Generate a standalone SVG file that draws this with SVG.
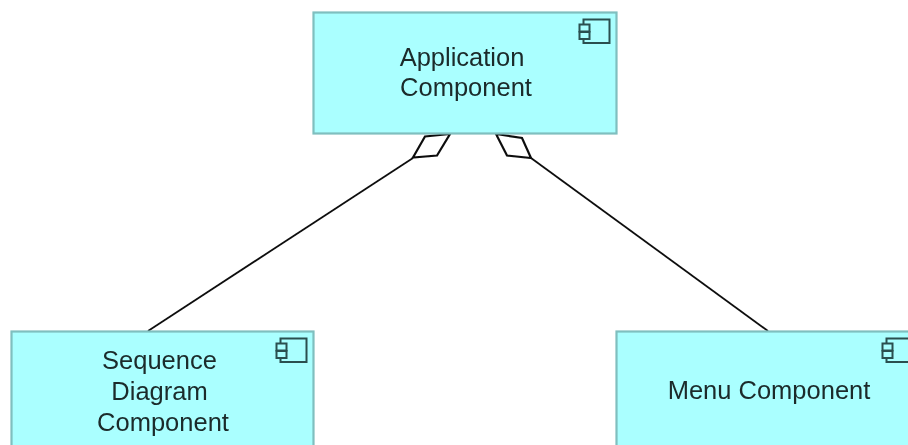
<svg xmlns="http://www.w3.org/2000/svg" width="908" height="445" viewBox="0 0 908 445">
<style>
.box{fill:#aaffff;stroke:#7fbfbf;stroke-width:2.2}
.ico{fill:none;stroke:#2b4f4f;stroke-width:2}
.tab{fill:#aaffff;stroke:#2b4f4f;stroke-width:2}
.lbl{font-family:"Liberation Sans",Arial,sans-serif;font-size:25.500px;fill:#1a2a2a;text-anchor:middle}
.line{fill:none;stroke:#111;stroke-width:1.800}
.dia{fill:#fff;stroke:#111;stroke-width:2.200;stroke-linejoin:miter}
</style>
<defs>
<g id="icon">
<rect class="ico" x="4" y="0" width="26" height="23.500"/>
<rect class="tab" x="0" y="5" width="10" height="7"/>
<rect class="tab" x="0" y="12.500" width="10" height="7"/>
</g>
<filter id="soft" x="-5%" y="-5%" width="110%" height="110%"><feGaussianBlur stdDeviation="0.5"/></filter>
</defs>
<rect width="908" height="445" fill="#fff"/>
<g filter="url(#soft)">
<g id="connectors">
<path class="line" d="M413 158L148 331"/>
<path class="line" d="M531 158L768 331"/>
<path class="dia" d="M450 134L425 136.500L413 157.500L437 155.500Z"/>
<path class="dia" d="M496 134L522 138L531 158L507 155.500Z"/>
</g>
<g id="application-component">
<rect class="box" x="313.500" y="12.500" width="303" height="121"/>
<use href="#icon" x="579.500" y="19.500"/>
<text class="lbl" x="462" y="66">Application</text>
<text class="lbl" x="466" y="96">Component</text>
</g>
<g id="sequence-diagram-component">
<rect class="box" x="11.500" y="331.500" width="302" height="125"/>
<use href="#icon" x="276.500" y="338.500"/>
<text class="lbl" x="159.500" y="369">Sequence</text>
<text class="lbl" x="159.500" y="400">Diagram</text>
<text class="lbl" x="163" y="431">Component</text>
</g>
<g id="menu-component">
<rect class="box" x="616.500" y="331.500" width="303" height="125"/>
<use href="#icon" x="882.500" y="338.500"/>
<text class="lbl" x="769" y="399">Menu Component</text>
</g>
</g>
</svg>
